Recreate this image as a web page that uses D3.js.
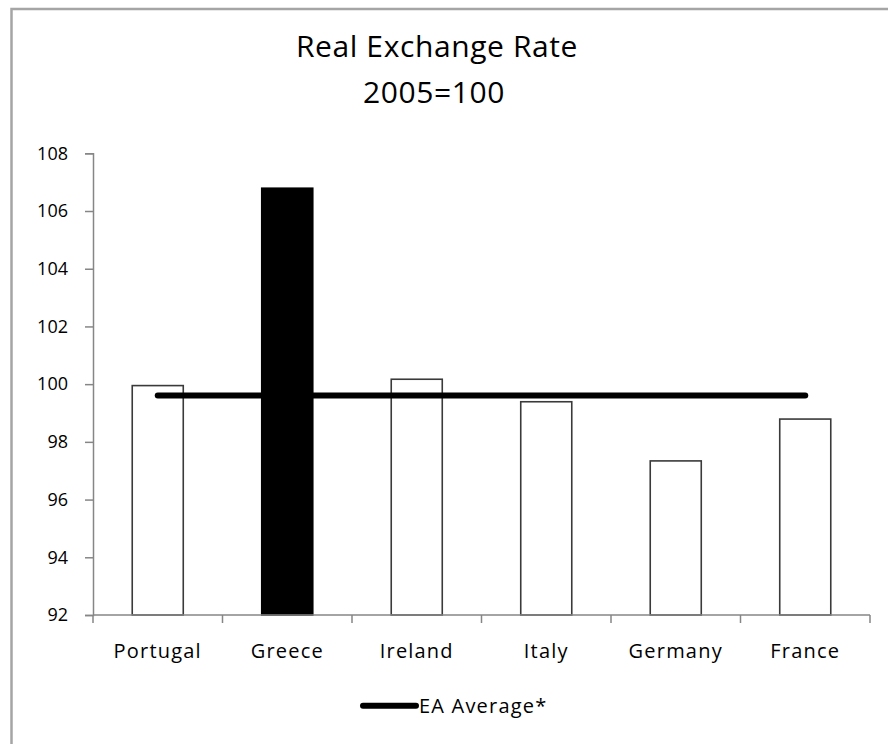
<!DOCTYPE html>
<html>
<head>
<meta charset="utf-8">
<script src="https://cdn.jsdelivr.net/npm/d3@7"></script>
<style>
  html, body { margin: 0; padding: 0; background: #fff; }
  svg { display: block; }
  text { font-family: "Open Sans", Lato, sans-serif; fill: #000; }
</style>
</head>
<body>
<svg id="chart" width="888" height="744"></svg>
<script>
const categories = ["Portugal", "Greece", "Ireland", "Italy", "Germany", "France"];
const rerValues = [99.95, 106.79, 100.17, 99.39, 97.34, 98.79];
const eaAverage = [99.61, 99.61, 99.61, 99.61, 99.61, 99.61];
const highlighted = ["Greece"];
const yTicks = [92, 94, 96, 98, 100, 102, 104, 106, 108];
const titleLines = ["Real Exchange Rate", "2005=100"];
const legendLabel = "EA Average*";

const svg = d3.select("#chart");

// outer chart frame
svg.append("rect")
  .attr("x", 11.5).attr("y", 9)
  .attr("width", 900).attr("height", 760)
  .attr("fill", "#fff")
  .attr("stroke", "#a5a5a5")
  .attr("stroke-width", 2.5);

const plot = { left: 93, right: 870, top: 153.3, bottom: 615 };

const x = d3.scaleBand()
  .domain(categories)
  .range([plot.left, plot.right])
  .paddingInner(0.606)
  .paddingOuter(0.303);

const y = d3.scaleLinear()
  .domain([92, 108])
  .range([plot.bottom, plot.top]);

// title
svg.append("text")
  .attr("x", 437).attr("y", 57.3)
  .attr("text-anchor", "middle")
  .attr("font-size", 30)
  .attr("letter-spacing", 0.6)
  .text(titleLines[0]);
svg.append("text")
  .attr("x", 434).attr("y", 102.7)
  .attr("text-anchor", "middle")
  .attr("font-size", 30)
  .attr("letter-spacing", 0.6)
  .text(titleLines[1]);

// bars
svg.append("g").selectAll("rect")
  .data(categories.map((c, i) => ({ c, v: rerValues[i] })))
  .join("rect")
  .attr("x", d => x(d.c))
  .attr("y", d => y(d.v))
  .attr("width", x.bandwidth())
  .attr("height", d => y(92) - y(d.v))
  .attr("fill", d => highlighted.includes(d.c) ? "#000" : "#fff")
  .attr("stroke", d => highlighted.includes(d.c) ? "#000" : "#3a3a3a")
  .attr("stroke-width", 1.6);

// y axis
const yAxis = d3.axisLeft(y).tickValues(yTicks).tickSize(8).tickPadding(17).tickFormat(d3.format("d"));
const gy = svg.append("g").attr("transform", `translate(${plot.left},0)`).call(yAxis);
gy.select(".domain").attr("stroke", "#868686").attr("stroke-width", 1.5);
gy.selectAll(".tick line").attr("stroke", "#868686").attr("stroke-width", 1.5);
gy.selectAll(".tick text").attr("font-size", 18).attr("font-family", "'Open Sans', sans-serif").attr("fill", "#000");

// x axis
const xPos = d3.scalePoint().domain(d3.range(categories.length + 1)).range([plot.left, plot.right]);
const gx = svg.append("g").attr("transform", `translate(0,${plot.bottom})`);
gx.append("line")
  .attr("x1", plot.left).attr("x2", plot.right)
  .attr("y1", 0).attr("y2", 0)
  .attr("stroke", "#868686").attr("stroke-width", 1.5);
gx.selectAll("line.tk")
  .data(d3.range(categories.length + 1))
  .join("line").attr("class", "tk")
  .attr("x1", d => xPos(d)).attr("x2", d => xPos(d))
  .attr("y1", 0).attr("y2", 8)
  .attr("stroke", "#868686").attr("stroke-width", 1.5);
gx.selectAll("text")
  .data(categories)
  .join("text")
  .attr("x", d => x(d) + x.bandwidth() / 2)
  .attr("y", 43)
  .attr("text-anchor", "middle")
  .attr("font-size", 20)
  .attr("letter-spacing", 1.2)
  .text(d => d);

// EA average line
const line = d3.line()
  .x((d, i) => x(categories[i]) + x.bandwidth() / 2)
  .y(d => y(d));
svg.append("path")
  .datum(eaAverage)
  .attr("d", line)
  .attr("fill", "none")
  .attr("stroke", "#000")
  .attr("stroke-width", 6)
  .attr("stroke-linecap", "round");

// legend
const lg = svg.append("g").attr("transform", "translate(0,705.7)");
lg.append("line")
  .attr("x1", 363).attr("x2", 416)
  .attr("y1", 0).attr("y2", 0)
  .attr("stroke", "#000").attr("stroke-width", 6)
  .attr("stroke-linecap", "round");
lg.append("text")
  .attr("x", 419).attr("y", 7.5)
  .attr("font-size", 20)
  .attr("letter-spacing", 1.2)
  .text(legendLabel);
</script>
</body>
</html>
